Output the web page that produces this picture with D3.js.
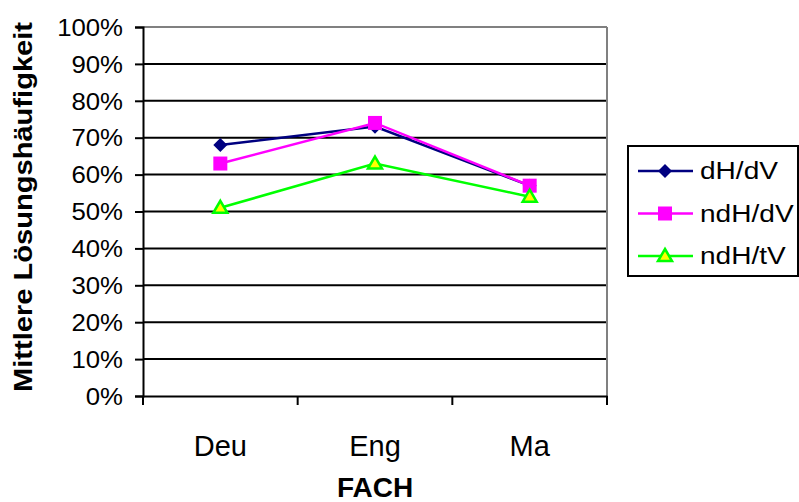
<!DOCTYPE html>
<html>
<head>
<meta charset="utf-8">
<script src="https://cdn.jsdelivr.net/npm/d3@7"></script>
<style>
  body { margin: 0; background: #fff; }
  text { font-family: Arial, "Liberation Sans", sans-serif; fill: #000; }
</style>
</head>
<body>
<svg width="799" height="502"></svg>
<script>
var faecher = ["Deu", "Eng", "Ma"];
var serien = ["dH/dV", "ndH/dV", "ndH/tV"];
var dHdV = [68, 73, 57];
var ndHdV = [63, 74, 57];
var ndHtV = [51, 63, 54];
var yTicks = [0, 10, 20, 30, 40, 50, 60, 70, 80, 90, 100];

var svg = d3.select("svg");

var x = d3.scaleBand().domain(faecher).range([143, 607]);
var y = d3.scaleLinear().domain([0, 100]).range([396, 27]);

// stretch text horizontally like the original export
function stretch(sel, k) {
  sel.each(function() {
    var w = this.getComputedTextLength();
    this.setAttribute("textLength", w * k);
    this.setAttribute("lengthAdjust", "spacingAndGlyphs");
  });
}

// gridlines
svg.append("g").selectAll("line")
  .data(yTicks.filter(function(d) { return d > 0; }))
  .enter().append("line")
    .attr("x1", 143).attr("x2", 607)
    .attr("y1", function(d) { return y(d); })
    .attr("y2", function(d) { return y(d); })
    .attr("stroke", function(d) { return d == 100 ? "#808080" : "#000"; })
    .attr("stroke-width", 2);

// right border
svg.append("line")
  .attr("x1", 607).attr("x2", 607)
  .attr("y1", y(100)).attr("y2", y(0))
  .attr("stroke", "#808080").attr("stroke-width", 2);

// y axis
var yAxis = svg.append("g")
  .attr("transform", "translate(143,0)")
  .call(d3.axisLeft(y).tickValues(yTicks).tickSize(8).tickPadding(12)
    .tickFormat(function(d) { return d + "%"; }));
yAxis.select(".domain").attr("stroke", "#000").attr("stroke-width", 2);
yAxis.selectAll(".tick line").attr("stroke", "#000").attr("stroke-width", 2);
yAxis.selectAll(".tick text")
  .attr("font-size", 23).attr("font-family", "Arial, 'Liberation Sans', sans-serif")
  .attr("dy", "0.36em").call(stretch, 1.12);

// x axis
var xAxis = svg.append("g")
  .attr("transform", "translate(0,396)")
  .call(d3.axisBottom(x).tickSize(0).tickPadding(0));
xAxis.select(".domain").attr("stroke", "#000").attr("stroke-width", 2);
xAxis.selectAll(".tick text")
  .attr("font-size", 29).attr("font-family", "Arial, 'Liberation Sans', sans-serif")
  .attr("y", 60).attr("dy", 0);
var xEdges = [143].concat(faecher.map(function(d) { return x(d) + x.bandwidth(); }));
xAxis.selectAll(".edge").data(xEdges).enter().append("line")
  .attr("x1", function(d) { return d; }).attr("x2", function(d) { return d; })
  .attr("y1", 0).attr("y2", 9)
  .attr("stroke", "#000").attr("stroke-width", 2);

// axis titles
svg.append("text")
  .attr("transform", "translate(32,207) rotate(-90)")
  .attr("text-anchor", "middle")
  .attr("font-size", 25).attr("font-weight", "bold")
  .attr("textLength", 370).attr("lengthAdjust", "spacingAndGlyphs")
  .text("Mittlere Lösungshäufigkeit");

svg.append("text")
  .attr("x", 375).attr("y", 497)
  .attr("text-anchor", "middle")
  .attr("font-size", 28).attr("font-weight", "bold")
  .text("FACH");

// series
var data = [
  { name: serien[0], values: dHdV, color: "#000080", marker: "diamond" },
  { name: serien[1], values: ndHdV, color: "#FF00FF", marker: "square" },
  { name: serien[2], values: ndHtV, color: "#00FF00", marker: "triangle" }
];

var line = d3.line()
  .x(function(d, i) { return x(faecher[i]) + x.bandwidth() / 2; })
  .y(function(d) { return y(d); });

function marker(g, s) {
  if (s.marker == "diamond") {
    g.append("path").attr("d", "M0,-7L7,0L0,7L-7,0Z").attr("fill", s.color);
  } else if (s.marker == "square") {
    g.append("rect").attr("x", -7).attr("y", -7).attr("width", 14).attr("height", 14)
      .attr("fill", s.color);
  } else {
    g.append("path").attr("d", "M0,-7L7,5L-7,5Z")
      .attr("fill", "#FFFF00").attr("stroke", s.color).attr("stroke-width", 2.5)
      .attr("stroke-linejoin", "miter");
  }
}

data.forEach(function(s) {
  svg.append("path")
    .datum(s.values)
    .attr("d", line)
    .attr("fill", "none")
    .attr("stroke", s.color)
    .attr("stroke-width", 2.5);
  s.values.forEach(function(v, i) {
    var g = svg.append("g")
      .attr("transform", "translate(" + (x(faecher[i]) + x.bandwidth() / 2) + "," + y(v) + ")");
    marker(g, s);
  });
});

// legend
var legend = svg.append("g");
legend.append("rect")
  .attr("x", 628).attr("y", 146).attr("width", 170).attr("height", 130)
  .attr("fill", "#fff").attr("stroke", "#000").attr("stroke-width", 2);

var ly = d3.scalePoint().domain(serien).range([171, 256]);
data.forEach(function(s) {
  var cy = ly(s.name);
  legend.append("line")
    .attr("x1", 638).attr("x2", 693).attr("y1", cy).attr("y2", cy)
    .attr("stroke", s.color).attr("stroke-width", 2.5);
  var g = legend.append("g").attr("transform", "translate(665," + cy + ")");
  marker(g, s);
  legend.append("text")
    .attr("x", 700).attr("y", cy + 8)
    .attr("font-size", 23)
    .text(s.name)
    .call(stretch, 1.22);
});
</script>
</body>
</html>
